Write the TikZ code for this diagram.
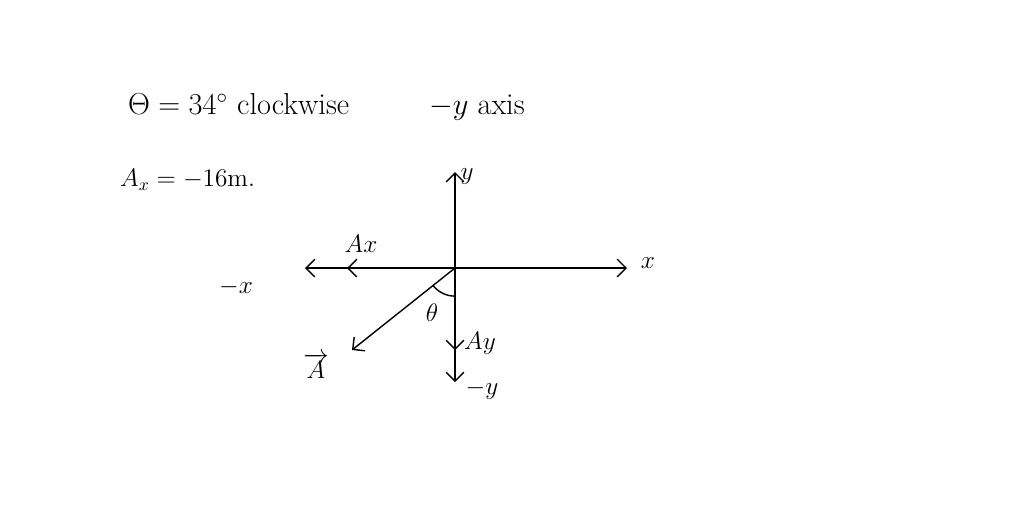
\documentclass[tikz,border=0pt]{standalone}
\usepackage{tikz}
\usetikzlibrary{arrows.meta,positioning,calc}
\tikzset{
    axis line/.style={thick},
    arr/.style={->,>={Straight Barb[length=5pt,width=10pt]},thick},
    rarr/.style={<-,>={Straight Barb[length=5pt,width=10pt]},thick},
    invisible point/.style={circle,inner sep=0pt,outer sep=0pt,minimum size=0pt},
    note/.style={font=\LARGE,anchor=west},
    lbl/.style={font=\Large},
}
\begin{document}
\begin{tikzpicture}[x=0.02cm,y=-0.02cm]
        \useasboundingbox (0,0) rectangle (1024,512);
        % top notes
        \node[note] (given) at (122,107) {$\Theta = 34^\circ$ clockwise\hspace{1.6cm}$-y$ axis};
        \node[note,font=\Large] (axval) at (114,180) {$A_x = -16$m.};
        % axes
        \coordinate (O) at (455,268);
        \coordinate (xpos) at (627,268);
        \coordinate (xneg) at (305,268);
        \coordinate (ypos) at (455,172);
        \coordinate (yneg) at (455,382);
        \coordinate (Axtip) at (347,268);
        \coordinate (Aytip) at (455,350);
        \coordinate (Atip) at (352,350);
        \draw[arr] (O) -- (xpos);
        \draw[arr] (O) -- (xneg);
        \draw[arr] (O) -- (ypos);
        \draw[arr] (O) -- (yneg);
        \draw[arr] (O) -- (Axtip);
        \draw[arr] (O) -- (Aytip);
        \draw[arr] (O) -- (Atip);
        % angle between A and -y
        \draw[thick] ($(O)!16pt!(Atip)$) arc[start angle=218.5,end angle=268,radius=16pt];
        % labels
        \node[lbl] (xlbl) at (648,263) {$x$};
        \node[lbl] (ylbl) at (467,177) {$y$};
        \node[lbl] (mxlbl) at (236,287) {$-x$};
        \node[lbl] (Axlbl) at (361,244) {$Ax$};
        \node[lbl] (Aylbl) at (480,343) {$Ay$};
        \node[lbl] (mylbl) at (482,390) {$-y$};
        \node[lbl] (thlbl) at (432,313) {$\theta$};
        \node[lbl] (Albl) at (316,366) {$\overrightarrow{A}$};
\end{tikzpicture}
\end{document}
